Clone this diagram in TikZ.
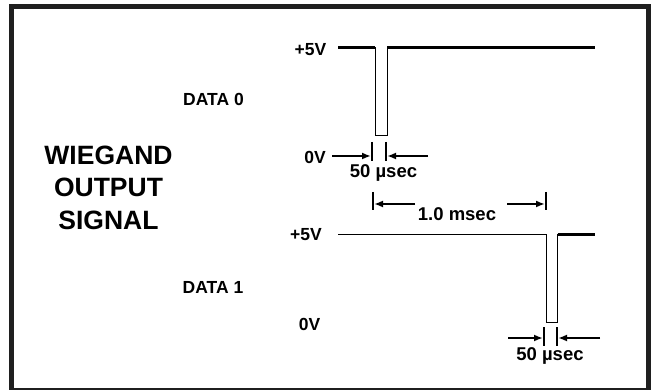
\documentclass[tikz,border=0pt]{standalone}
\usepackage{fontspec}
\setmainfont{Liberation Sans}
\usetikzlibrary{arrows.meta}
\begin{document}
\begin{tikzpicture}[x=1pt,y=-1pt,
  lbl/.style={font=\fontsize{17.5}{19}\selectfont\bfseries, inner sep=0pt},
  dim/.style={font=\fontsize{18.5}{20}\selectfont\bfseries, inner sep=0pt},
  big/.style={font=\fontsize{26.5}{32.5}\selectfont\bfseries, inner sep=0pt, align=center},
  sigthick/.style={line width=2.2pt},
  sigthin/.style={line width=1pt},
  tick/.style={line width=1.2pt},
  dimarrow/.style={line width=2.2pt, -{Latex[length=9pt,width=7pt]}}]
\useasboundingbox (0,0) rectangle (651,390);
\fill[white] (0,0) rectangle (651,390);
\draw[line width=4.6pt, color=black!88] (11.3,6.5) rectangle (648.3,390.5);

% left title
\node[big] (title) at (108.5,187.5) {WIEGAND\\OUTPUT\\SIGNAL};
\node[lbl] (d0) at (213.5,99.7) {DATA 0};
\node[lbl] (d1) at (213,287.5) {DATA 1};

% level labels
\node[lbl, anchor=east] (hi0) at (326.5,49.5) {+5V};
\node[lbl, anchor=east] (lo0) at (326,157.5) {0V};
\node[lbl, anchor=east] (hi1) at (322,235) {+5V};
\node[lbl, anchor=east] (lo1) at (320.5,324) {0V};

% signal DATA 0
\coordinate (a0) at (338,47.5);
\coordinate (b0) at (375,47.5);
\coordinate (c0) at (375,136);
\coordinate (e0) at (387,136);
\coordinate (f0) at (387,47.5);
\coordinate (g0) at (595,47.5);
\draw[sigthick] (a0) -- (b0);
\draw[sigthin] (b0) -- (c0) -- (e0) -- (f0);
\draw[sigthick] (f0) -- (g0);

% signal DATA 1
\coordinate (a1) at (338,234.5);
\coordinate (b1) at (546,234.5);
\coordinate (c1) at (546,322.5);
\coordinate (e1) at (557.5,322.5);
\coordinate (f1) at (557.5,234.5);
\coordinate (g1) at (595,234.5);
\draw[sigthin] (a1) -- (b1);
\draw[sigthin] (b1) -- (c1) -- (e1) -- (f1);
\draw[sigthick] (f1) -- (g1);

% 50 usec (DATA 0)
\coordinate (t0a) at (372,142); \coordinate (t0b) at (372,161);
\coordinate (t1a) at (386,142); \coordinate (t1b) at (386,161);
\draw[tick] (t0a) -- (t0b);
\draw[tick] (t1a) -- (t1b);
\coordinate (ar0s) at (332,156); \coordinate (ar0e) at (371,156);
\coordinate (ar1s) at (428,156); \coordinate (ar1e) at (387,156);
\draw[dimarrow] (ar0s) -- (ar0e);
\draw[dimarrow] (ar1s) -- (ar1e);
\node[dim] (u0) at (383.5,173) {50 µsec};

% 1.0 msec
\coordinate (m0a) at (373,192); \coordinate (m0b) at (373,210);
\coordinate (m1a) at (546,192); \coordinate (m1b) at (546,210);
\draw[tick] (m0a) -- (m0b);
\draw[tick] (m1a) -- (m1b);
\coordinate (ms0s) at (415,204); \coordinate (ms0e) at (374,204);
\coordinate (ms1s) at (507,204); \coordinate (ms1e) at (545,204);
\draw[dimarrow] (ms0s) -- (ms0e);
\draw[dimarrow] (ms1s) -- (ms1e);
\node[dim] (ms) at (457,214.5) {1.0 msec};

% 50 usec (DATA 1)
\coordinate (s0a) at (544,327); \coordinate (s0b) at (544,346);
\coordinate (s1a) at (557,327); \coordinate (s1b) at (557,346);
\draw[tick] (s0a) -- (s0b);
\draw[tick] (s1a) -- (s1b);
\coordinate (as0s) at (508,338); \coordinate (as0e) at (543,338);
\coordinate (as1s) at (600,338); \coordinate (as1e) at (558,338);
\draw[dimarrow] (as0s) -- (as0e);
\draw[dimarrow] (as1s) -- (as1e);
\node[dim] (u1) at (550,356) {50 µsec};
\end{tikzpicture}
\end{document}
